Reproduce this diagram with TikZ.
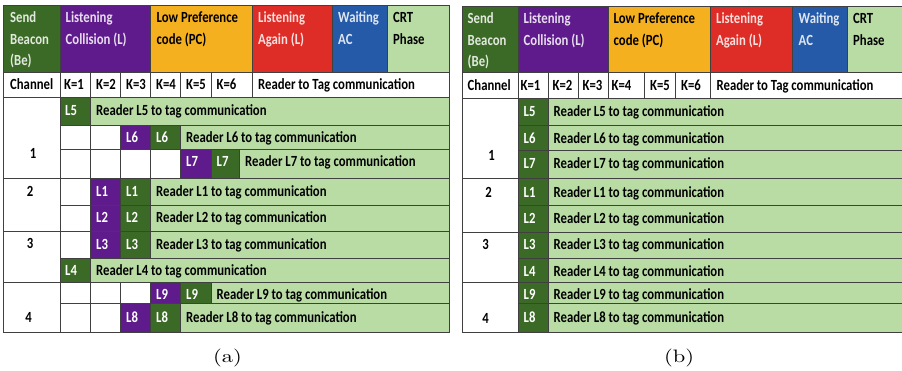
\documentclass[tikz,border=0pt]{standalone}
\usepackage{fontspec}
\newfontfamily\calfnt[FakeStretch=0.82]{Carlito}
\newfontfamily\capfnt[Extension=.otf,FakeStretch=1.25]{lmroman10-regular}
\definecolor{dg}{RGB}{59,106,38}
\definecolor{pu}{RGB}{95,27,140}
\definecolor{og}{RGB}{245,176,32}
\definecolor{rd}{RGB}{222,44,38}
\definecolor{bl}{RGB}{36,90,168}
\definecolor{lg}{RGB}{185,220,165}
\tikzset{
  gl/.style={draw=black!75,line width=0.7pt},
  tx/.style={inner sep=0pt,anchor=base west,font=\calfnt\bfseries\fontsize{15.5}{18}\selectfont,text=black},
  wt/.style={tx,text=white},
  wg/.style={tx,text=white!85!dg},
  wp/.style={tx,text=white!85!pu},
  wr/.style={tx,text=white!85!rd},
  wb/.style={tx,text=white!85!bl},
  num/.style={tx,anchor=base},
  captext/.style={inner sep=0pt,anchor=base,font=\capfnt\fontsize{18}{20}\selectfont}
}
\newcommand\bx[5]{\filldraw[gl,fill=#5] (#1,#2) rectangle (#3,#4);}
\begin{document}
\begin{tikzpicture}[x=1pt,y=-1pt]
\useasboundingbox (0,0) rectangle (902,371);
% ================= (a) =================
\bx{3}{5}{60}{72}{dg}\bx{60}{5}{150.5}{72}{pu}\bx{150.5}{5}{252}{72}{og}
\bx{252}{5}{332}{72}{rd}\bx{332}{5}{387}{72}{bl}\bx{387}{5}{449.5}{72}{lg}
\foreach \a/\b in {3/60,60/90.5,90.5/120.5,120.5/150.5,150.5/180.5,180.5/211,211/252,252/449.5}{\bx{\a}{72}{\b}{97}{white}}
\bx{3}{97}{60}{178}{white}\bx{3}{178}{60}{231.5}{white}\bx{3}{231.5}{60}{282}{white}\bx{3}{282}{60}{332}{white}
% L5
\bx{60}{97}{90.5}{125}{dg}\bx{90.5}{97}{449.5}{125}{lg}
% L6
\bx{60}{125}{90.5}{149}{white}\bx{90.5}{125}{120.5}{149}{white}\bx{120.5}{125}{150.5}{149}{pu}\bx{150.5}{125}{180.5}{149}{dg}\bx{180.5}{125}{449.5}{149}{lg}
% L7
\bx{60}{149}{90.5}{178}{white}\bx{90.5}{149}{120.5}{178}{white}\bx{120.5}{149}{150.5}{178}{white}\bx{150.5}{149}{180.5}{178}{white}
\bx{180.5}{149}{211}{178}{pu}\bx{211}{149}{239.5}{178}{dg}\bx{239.5}{149}{449.5}{178}{lg}
% L1 L2 L3
\foreach \t/\u in {178/205,205/231.5,231.5/258}{%
  \bx{60}{\t}{90.5}{\u}{white}\bx{90.5}{\t}{120.5}{\u}{pu}\bx{120.5}{\t}{150.5}{\u}{dg}\bx{150.5}{\t}{449.5}{\u}{lg}}
% L4
\bx{60}{258}{90.5}{282}{dg}\bx{90.5}{258}{449.5}{282}{lg}
% L9
\bx{60}{282}{90.5}{303.5}{white}\bx{90.5}{282}{120.5}{303.5}{white}\bx{120.5}{282}{150.5}{303.5}{white}
\bx{150.5}{282}{180.5}{303.5}{pu}\bx{180.5}{282}{211}{303.5}{dg}\bx{211}{282}{449.5}{303.5}{lg}
% L8
\bx{60}{303.5}{90.5}{332}{white}\bx{90.5}{303.5}{120.5}{332}{white}\bx{120.5}{303.5}{150.5}{332}{pu}
\bx{150.5}{303.5}{180.5}{332}{dg}\bx{180.5}{303.5}{449.5}{332}{lg}
% header texts
\node[wg] (aSend) at (10,22.8) {Send};
\node[wg] (aBeacon) at (10,44.3) {Beacon};
\node[wg] (aBe) at (10,65.8) {(Be)};
\node[wp] (aLis) at (65.5,22.8) {Listening};
\node[wp] (aCol) at (65.5,44.3) {Collision (L)};
\node[tx] (aLow) at (156.5,22.8) {Low Preference};
\node[tx] (aCode) at (156.5,44.3) {code (PC)};
\node[wr] (aLisA) at (258,22.8) {Listening};
\node[wr] (aAgain) at (258,44.3) {Again (L)};
\node[wb] (aWait) at (338,22.8) {Waiting};
\node[wb] (aAC) at (338,44.3) {AC};
\node[tx] (aCRT) at (393,22.8) {CRT};
\node[tx] (aPhase) at (393,44.3) {Phase};
% channel row
\node[tx] (aChan) at (10,90) {Channel};
\node[tx] (aK1) at (64,90) {K=1};
\node[tx] (aK2) at (96,90) {K=2};
\node[tx] (aK3) at (126,90) {K=3};
\node[tx] (aK4) at (156,90) {K=4};
\node[tx] (aK5) at (186,90) {K=5};
\node[tx] (aK6) at (216.5,90) {K=6};
\node[tx] (aRT) at (258,90) {Reader to Tag communication};
% rows
\node[wt] (aL5) at (65,115.5) {L5};
\node[tx] (aR5) at (96,115.5) {Reader L5 to tag communication};
\node[wt] (aL6p) at (126,142.5) {L6};
\node[wt] (aL6g) at (156,142.5) {L6};
\node[tx] (aR6) at (186,142.5) {Reader L6 to tag communication};
\node[wt] (aL7p) at (186,167) {L7};
\node[wt] (aL7g) at (216.5,167) {L7};
\node[tx] (aR7) at (245,167) {Reader L7 to tag communication};
\node[wt] (aL1p) at (96,196.7) {L1};
\node[wt] (aL1g) at (126,196.7) {L1};
\node[tx] (aR1) at (156,196.7) {Reader L1 to tag communication};
\node[wt] (aL2p) at (96,222.7) {L2};
\node[wt] (aL2g) at (126,222.7) {L2};
\node[tx] (aR2) at (156,222.7) {Reader L2 to tag communication};
\node[wt] (aL3p) at (96,249.5) {L3};
\node[wt] (aL3g) at (126,249.5) {L3};
\node[tx] (aR3) at (156,249.5) {Reader L3 to tag communication};
\node[wt] (aL4) at (65,275.5) {L4};
\node[tx] (aR4) at (96,275.5) {Reader L4 to tag communication};
\node[wt] (aL9p) at (156,299) {L9};
\node[wt] (aL9g) at (186,299) {L9};
\node[tx] (aR9) at (216.5,299) {Reader L9 to tag communication};
\node[wt] (aL8p) at (126,322.5) {L8};
\node[wt] (aL8g) at (156,322.5) {L8};
\node[tx] (aR8) at (186,322.5) {Reader L8 to tag communication};
\node[num] (aC1) at (33,159) {1};
\node[num] (aC2) at (30,196.7) {2};
\node[num] (aC3) at (30,249) {3};
\node[num] (aC4) at (28.5,322.7) {4};
\node[captext] (capa) at (227.5,362.5) {(a)};
% ================= (b) =================
\bx{462}{6.5}{518}{72}{dg}\bx{518}{6.5}{608}{72}{pu}\bx{608}{6.5}{710}{72}{og}
\bx{710}{6.5}{792}{72}{rd}\bx{792}{6.5}{847}{72}{bl}\bx{847}{6.5}{903}{72}{lg}
\foreach \a/\b in {462/518,518/548,548/578,578/608,608/644,644/675,675/710,710/903}{\bx{\a}{72}{\b}{98}{white}}
\bx{462}{98}{518}{178}{white}\bx{462}{178}{518}{232}{white}\bx{462}{232}{518}{282}{white}\bx{462}{282}{518}{332}{white}
\foreach \t/\u in {98/125,125/150,150/178,178/205,205/232,232/258,258/282,282/303,303/332}{%
  \bx{518}{\t}{548}{\u}{dg}\bx{548}{\t}{903}{\u}{lg}}
\node[wg] (bSend) at (467.5,24) {Send};
\node[wg] (bBeacon) at (467.5,45.5) {Beacon};
\node[wg] (bBe) at (467.5,67) {(Be)};
\node[wp] (bLis) at (523.5,24) {Listening};
\node[wp] (bCol) at (523.5,45.5) {Collision (L)};
\node[tx] (bLow) at (613.5,24) {Low Preference};
\node[tx] (bCode) at (613.5,45.5) {code (PC)};
\node[wr] (bLisA) at (716,24) {Listening};
\node[wr] (bAgain) at (716,45.5) {Again (L)};
\node[wb] (bWait) at (798.5,24) {Waiting};
\node[wb] (bAC) at (798.5,45.5) {AC};
\node[tx] (bCRT) at (853,24) {CRT};
\node[tx] (bPhase) at (853,45.5) {Phase};
\node[tx] (bChan) at (467.5,90.7) {Channel};
\node[tx] (bK1) at (520.5,90.7) {K=1};
\node[tx] (bK2) at (552.5,90.7) {K=2};
\node[tx] (bK3) at (582.5,90.7) {K=3};
\node[tx] (bK4) at (611.5,90.7) {K=4};
\node[tx] (bK5) at (650,90.7) {K=5};
\node[tx] (bK6) at (681,90.7) {K=6};
\node[tx] (bRT) at (716.5,90.7) {Reader to Tag communication};
\foreach \n/\yy in {5/116.7,6/143.3,7/168.3,1/197.3,2/223.3,3/250,4/276.7,9/300,8/322.7}{%
  \node[wt] (bL\n) at (523.5,\yy) {L\n};
  \node[tx] (bR\n) at (553.5,\yy) {Reader L\n\ to tag communication};}
\node[num] (bC1) at (491.5,161) {1};
\node[num] (bC2) at (488.5,197.3) {2};
\node[num] (bC3) at (485.5,250) {3};
\node[num] (bC4) at (485.5,323.3) {4};
\node[captext] (capb) at (679,362.5) {(b)};
\end{tikzpicture}
\end{document}
